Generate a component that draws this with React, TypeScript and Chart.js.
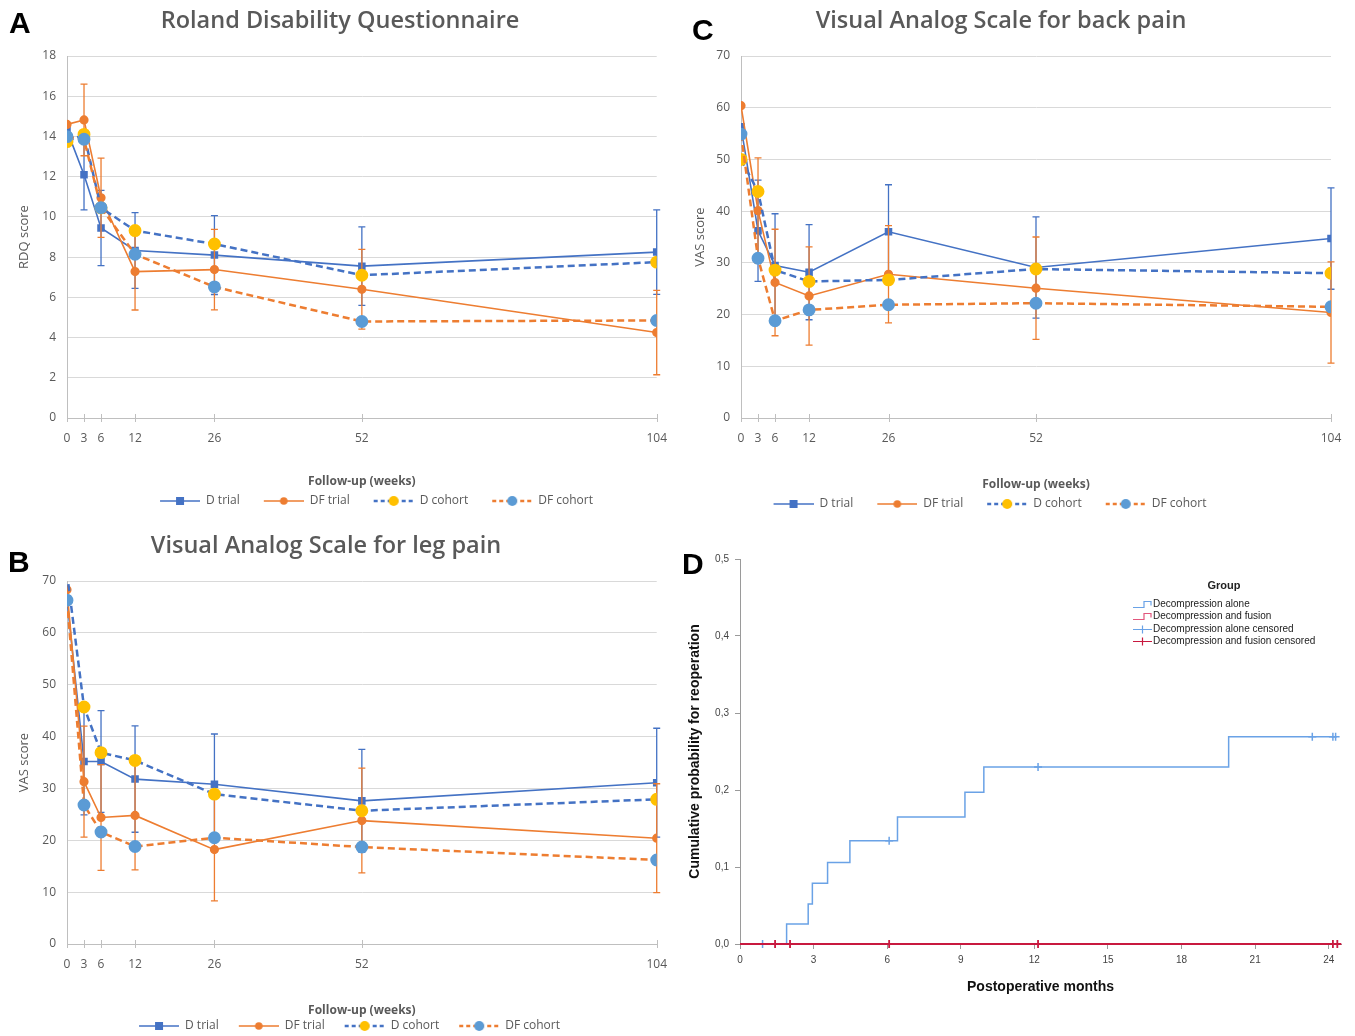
import React, { useEffect, useRef } from "react";
import { Chart, registerables } from "chart.js";

Chart.register(...registerables);

// ---------------- data ----------------
const WEEKS = [0, 3, 6, 12, 26, 52, 104];
const SERIES_LABELS = ["D trial", "DF trial", "D cohort", "DF cohort"];

// A: Roland Disability Questionnaire
const RDQ_D_TRIAL = [14.3, 12.1, 9.45, 8.33, 8.1, 7.55, 8.25];
const RDQ_D_TRIAL_ERR = [0, 1.75, 1.87, 1.88, 1.96, 1.95, 2.1];
const RDQ_DF_TRIAL = [14.6, 14.82, 10.95, 7.28, 7.38, 6.4, 4.25];
const RDQ_DF_TRIAL_ERR = [0, 1.78, 1.97, 1.91, 2.0, 1.98, 2.1];
const RDQ_D_COHORT = [13.74, 14.1, 10.45, 9.32, 8.65, 7.1, 7.75];
const RDQ_DF_COHORT = [13.99, 13.86, 10.46, 8.14, 6.52, 4.8, 4.85];
const RDQ_TICK_STEP = 2;
const RDQ_MAX = 18;

// C: VAS back pain
const BACK_D_TRIAL = [56.3, 36.2, 29.5, 28.2, 36.0, 29.1, 34.7];
const BACK_D_TRIAL_ERR = [0, 9.8, 10.0, 9.2, 9.1, 9.8, 9.8];
const BACK_DF_TRIAL = [60.4, 40.1, 26.2, 23.6, 27.8, 25.1, 20.4];
const BACK_DF_TRIAL_ERR = [0, 10.2, 10.3, 9.5, 9.4, 9.9, 9.8];
const BACK_D_COHORT = [50.0, 43.8, 28.6, 26.4, 26.7, 28.8, 28.0];
const BACK_DF_COHORT = [54.9, 30.9, 18.8, 20.9, 21.9, 22.2, 21.5];

// B: VAS leg pain
const LEG_D_TRIAL = [66.4, 35.2, 35.2, 31.8, 30.8, 27.6, 31.1];
const LEG_D_TRIAL_ERR = [0, 10.3, 9.8, 10.25, 9.7, 9.95, 10.5];
const LEG_DF_TRIAL = [68.3, 31.3, 24.4, 24.8, 18.2, 23.8, 20.4];
const LEG_DF_TRIAL_ERR = [0, 10.7, 10.2, 10.5, 9.9, 10.1, 10.5];
const LEG_D_COHORT = [71.5, 45.7, 36.9, 35.4, 28.9, 25.7, 27.9];
const LEG_DF_COHORT = [66.3, 26.8, 21.6, 18.8, 20.5, 18.7, 16.2];
const VAS_TICK_STEP = 10;
const VAS_MAX = 70;

// D: Kaplan-Meier reoperation
const KM_DA_MONTHS = [0, 1.9, 2.78, 2.95, 3.57, 4.48, 6.42, 9.17, 9.94, 19.92, 24.3];
const KM_DA_PROB = [0, 0.026, 0.052, 0.079, 0.106, 0.134, 0.165, 0.197, 0.23, 0.269, 0.269];
const KM_DA_CENS_MONTHS = [0.92, 6.08, 12.15, 23.33, 24.17, 24.28];
const KM_DA_CENS_PROB = [0, 0.134, 0.23, 0.269, 0.269, 0.269];
const KM_DF_MONTHS = [0, 24.5];
const KM_DF_PROB = [0, 0];
const KM_DF_CENS_MONTHS = [1.43, 2.04, 6.08, 12.15, 24.17, 24.35];
const KM_DF_CENS_PROB = [0, 0, 0, 0, 0, 0];
const KM_LABELS = [
  "Decompression alone",
  "Decompression and fusion",
  "Decompression alone censored",
  "Decompression and fusion censored",
];
const KM_X_TICKS = [0, 3, 6, 9, 12, 15, 18, 21, 24];
const KM_Y_TICKS = [0, 0.1, 0.2, 0.3, 0.4, 0.5];

// ---------------- styles ----------------
const C_BLUE = "#4472C4";
const C_ORANGE = "#ED7D31";
const C_YELLOW = "#FFC000";
const C_LBLUE = "#5B9BD5";
const C_TEXT = "#595959";
const FONT = "'Open Sans', 'DejaVu Sans', sans-serif";
const ARIAL = "'Liberation Sans', Arial, sans-serif";
const KM_BLUE = "#6aa2e6";
const KM_RED = "#c8193f";
const KM_PINK = "#e2577d";

function makeIcon(lineColor: string, dashed: boolean, lw: number, marker: string, shape: string, r: number) {
  const c = document.createElement("canvas");
  c.width = 58;
  c.height = 12;
  const ctx = c.getContext("2d")!;
  ctx.strokeStyle = lineColor;
  ctx.lineWidth = lw;
  if (dashed) ctx.setLineDash([4, 3]);
  ctx.beginPath();
  ctx.moveTo(18, 6);
  ctx.lineTo(58, 6);
  ctx.stroke();
  ctx.setLineDash([]);
  ctx.fillStyle = marker;
  if (shape === "rect") {
    ctx.fillRect(38 - r, 6 - r, 2 * r, 2 * r);
  } else {
    ctx.beginPath();
    ctx.arc(38, 6, r, 0, Math.PI * 2);
    ctx.fill();
  }
  return c;
}

const errorBarPlugin = {
  id: "errorBars",
  beforeDatasetDraw(chart: any, args: any) {
    const ds = chart.data.datasets[args.index];
    if (!ds.errors) return;
    const xs = chart.scales.x;
    const ys = chart.scales.y;
    const ctx = chart.ctx;
    ctx.save();
    ctx.strokeStyle = ds.errorColor;
    ctx.lineWidth = 1.3;
    ds.data.forEach((p: any, j: number) => {
      const e = ds.errors[j];
      if (!e) return;
      const x = xs.getPixelForValue(p.x);
      const yt = ys.getPixelForValue(p.y + e);
      const yb = ys.getPixelForValue(p.y - e);
      ctx.beginPath();
      ctx.moveTo(x, yt);
      ctx.lineTo(x, yb);
      ctx.moveTo(x - 3.5, yt);
      ctx.lineTo(x + 3.5, yt);
      ctx.moveTo(x - 3.5, yb);
      ctx.lineTo(x + 3.5, yb);
      ctx.stroke();
    });
    ctx.restore();
  },
};

const crossTickPlugin = {
  id: "crossTicks",
  beforeDatasetsDraw(chart: any) {
    const xs = chart.scales.x;
    const ctx = chart.ctx;
    const b = chart.chartArea.bottom;
    ctx.save();
    ctx.strokeStyle = "#bfbfbf";
    ctx.lineWidth = 1;
    xs.ticks.forEach((t: any) => {
      const x = Math.round(xs.getPixelForValue(t.value)) + 0.5;
      ctx.beginPath();
      ctx.moveTo(x, b - 4);
      ctx.lineTo(x, b + 4);
      ctx.stroke();
    });
    ctx.restore();
  },
};

// nudges the title and legend boxes horizontally after layout
const shiftBoxesPlugin = {
  id: "shiftBoxes",
  beforeDraw(chart: any, _args: any, opts: any) {
    const t = chart.titleBlock;
    if (t && opts.titleDx) {
      t.left += opts.titleDx;
      t.right += opts.titleDx;
    }
    const l = chart.legend;
    if (l && opts.legendDx) {
      l.left += opts.legendDx;
      l.right += opts.legendDx;
    }
  },
};

const kmLegendPlugin = {
  id: "kmLegend",
  afterDraw(chart: any) {
    const { ctx, chartArea } = chart;
    const r = chartArea.right;
    const t = chartArea.top;
    ctx.save();
    ctx.fillStyle = "#222";
    ctx.textBaseline = "middle";
    ctx.font = `bold 11px ${ARIAL}`;
    ctx.textAlign = "center";
    ctx.fillText("Group", r - 117, t + 27);
    ctx.font = `10px ${ARIAL}`;
    ctx.textAlign = "left";
    const colors = [KM_BLUE, KM_PINK, KM_BLUE, KM_RED];
    chart.data.datasets.forEach((ds: any, i: number) => {
      const y = Math.round(t + 45 + i * 12.4) + 0.5;
      const x0 = r - 208;
      ctx.strokeStyle = colors[i];
      ctx.lineWidth = 1.2;
      ctx.beginPath();
      if (i < 2) {
        ctx.moveTo(x0, y + 3);
        ctx.lineTo(x0 + 11, y + 3);
        ctx.lineTo(x0 + 11, y - 3);
        ctx.lineTo(x0 + 18, y - 3);
        ctx.lineTo(x0 + 18, y + 1);
      } else {
        ctx.moveTo(x0, y);
        ctx.lineTo(x0 + 19, y);
        ctx.moveTo(x0 + 9.5, y - 4);
        ctx.lineTo(x0 + 9.5, y + 4);
      }
      ctx.stroke();
      ctx.fillStyle = "#222";
      ctx.fillText(ds.label, r - 188, y);
    });
    ctx.restore();
  },
};

type Layout = {
  padL: number;
  padR: number;
  padB: number;
  yWidth: number;
  xHeight: number;
  titleTop: number;
  titleBottom: number;
  legendPad: number;
  yTitlePad: number;
  titleDx: number;
  legendDx: number;
};

type ExcelProps = {
  left: number;
  top: number;
  width: number;
  height: number;
  title: string;
  yTitle: string;
  yMax: number;
  yStep: number;
  dTrial: number[];
  dTrialErr: number[];
  dfTrial: number[];
  dfTrialErr: number[];
  dCohort: number[];
  dfCohort: number[];
  layout: Layout;
};

function pts(arr: number[]) {
  return WEEKS.map((w, i) => ({ x: w, y: arr[i] }));
}

function ExcelPanel(p: ExcelProps) {
  const ref = useRef<HTMLCanvasElement>(null);
  useEffect(() => {
    const L = p.layout;
    const datasets: any[] = [
      {
        label: SERIES_LABELS[0],
        data: pts(p.dTrial),
        errors: p.dTrialErr,
        errorColor: C_BLUE,
        borderColor: C_BLUE,
        borderWidth: 1.6,
        pointStyle: "rect",
        pointRadius: 4.2,
        pointBackgroundColor: C_BLUE,
        pointBorderColor: C_BLUE,
        order: 3,
        icon: makeIcon(C_BLUE, false, 1.6, C_BLUE, "rect", 4),
      },
      {
        label: SERIES_LABELS[1],
        data: pts(p.dfTrial),
        errors: p.dfTrialErr,
        errorColor: C_ORANGE,
        borderColor: C_ORANGE,
        borderWidth: 1.6,
        pointStyle: "circle",
        pointRadius: 3.8,
        pointBackgroundColor: C_ORANGE,
        pointBorderColor: C_ORANGE,
        order: 2,
        icon: makeIcon(C_ORANGE, false, 1.6, C_ORANGE, "circle", 3.8),
      },
      {
        label: SERIES_LABELS[2],
        data: pts(p.dCohort),
        borderColor: C_BLUE,
        borderWidth: 2.5,
        borderDash: [7, 4],
        pointStyle: "circle",
        pointRadius: 5.2,
        pointBackgroundColor: C_YELLOW,
        pointBorderColor: C_YELLOW,
        order: 1,
        icon: makeIcon(C_BLUE, true, 2.5, C_YELLOW, "circle", 5),
      },
      {
        label: SERIES_LABELS[3],
        data: pts(p.dfCohort),
        borderColor: C_ORANGE,
        borderWidth: 2.5,
        borderDash: [7, 4],
        pointStyle: "circle",
        pointRadius: 5.2,
        pointBackgroundColor: C_LBLUE,
        pointBorderColor: C_LBLUE,
        order: 0,
        icon: makeIcon(C_ORANGE, true, 2.5, C_LBLUE, "circle", 5),
      },
    ];
    const chart = new Chart(ref.current!, {
      type: "line",
      data: { datasets },
      plugins: [errorBarPlugin, crossTickPlugin, shiftBoxesPlugin],
      options: {
        responsive: false,
        animation: false,
        events: [],
        layout: { padding: { left: L.padL, right: L.padR, top: 0, bottom: L.padB } },
        elements: { line: { tension: 0 } },
        plugins: {
          tooltip: { enabled: false },
          shiftBoxes: { titleDx: L.titleDx, legendDx: L.legendDx },
          title: {
            display: true,
            text: p.title,
            color: C_TEXT,
            font: { family: FONT, size: 23.5, weight: "600" },
            padding: { top: L.titleTop, bottom: L.titleBottom },
          },
          legend: {
            position: "bottom",
            labels: {
              usePointStyle: true,
              pointStyleWidth: 58,
              padding: L.legendPad,
              color: C_TEXT,
              font: { family: FONT, size: 12 },
              generateLabels: (ch: any) =>
                ch.data.datasets.map((ds: any, i: number) => ({
                  text: ds.label,
                  pointStyle: ds.icon,
                  datasetIndex: i,
                  hidden: false,
                  fontColor: C_TEXT,
                  lineWidth: 0,
                  strokeStyle: "rgba(0,0,0,0)",
                  fillStyle: "rgba(0,0,0,0)",
                })),
            },
          },
        },
        scales: {
          x: {
            type: "linear",
            min: 0,
            max: 104,
            afterBuildTicks: (s: any) => {
              s.ticks = WEEKS.map((v) => ({ value: v }));
            },
            afterFit: (s: any) => {
              s.height = L.xHeight;
            },
            grid: { display: false, drawTicks: false },
            border: { display: true, color: "#bfbfbf", width: 1 },
            ticks: {
              padding: 13,
              color: C_TEXT,
              font: { family: FONT, size: 12 },
              autoSkip: false,
              maxRotation: 0,
            },
            title: {
              display: true,
              text: "Follow-up (weeks)",
              color: C_TEXT,
              font: { family: FONT, size: 12, weight: "bold" },
              padding: { top: 0, bottom: 0 },
            },
          },
          y: {
            type: "linear",
            min: 0,
            max: p.yMax,
            afterFit: (s: any) => {
              s.width = L.yWidth;
            },
            grid: { color: "#d9d9d9", drawTicks: false, lineWidth: 1 },
            border: { display: true, color: "#bfbfbf", width: 1 },
            ticks: {
              stepSize: p.yStep,
              padding: 11,
              color: C_TEXT,
              font: { family: FONT, size: 12 },
            },
            title: {
              display: true,
              text: p.yTitle,
              color: C_TEXT,
              font: { family: FONT, size: 13 },
              padding: { top: L.yTitlePad, bottom: 0 },
            },
          },
        },
      } as any,
    });
    return () => chart.destroy();
  }, []);
  return (
    <canvas
      ref={ref}
      width={p.width}
      height={p.height}
      style={{ position: "absolute", left: p.left, top: p.top, width: p.width, height: p.height }}
    />
  );
}

function KMPanel() {
  const ref = useRef<HTMLCanvasElement>(null);
  useEffect(() => {
    const xy = (xs: number[], ys: number[]) => xs.map((x, i) => ({ x, y: ys[i] }));
    const chart = new Chart(ref.current!, {
      type: "line",
      data: {
        datasets: [
          {
            label: KM_LABELS[0],
            data: xy(KM_DA_MONTHS, KM_DA_PROB),
            stepped: "before",
            borderColor: KM_BLUE,
            borderWidth: 1.5,
            pointRadius: 0,
            clip: false,
            order: 3,
          },
          {
            label: KM_LABELS[1],
            data: xy(KM_DF_MONTHS, KM_DF_PROB),
            borderColor: KM_RED,
            borderWidth: 2,
            pointRadius: 0,
            clip: false,
            order: 1,
          },
          {
            label: KM_LABELS[2],
            data: xy(KM_DA_CENS_MONTHS, KM_DA_CENS_PROB),
            showLine: false,
            pointStyle: "cross",
            pointRadius: 4,
            pointBorderColor: KM_BLUE,
            pointBorderWidth: 1.5,
            borderColor: KM_BLUE,
            clip: false,
            order: 2,
          },
          {
            label: KM_LABELS[3],
            data: xy(KM_DF_CENS_MONTHS, KM_DF_CENS_PROB),
            showLine: false,
            pointStyle: "cross",
            pointRadius: 4,
            pointBorderColor: KM_RED,
            pointBorderWidth: 1.8,
            borderColor: KM_RED,
            clip: false,
            order: 0,
          },
        ] as any,
      },
      plugins: [kmLegendPlugin],
      options: {
        responsive: false,
        animation: false,
        events: [],
        layout: { padding: { left: 0, right: 14, top: 14, bottom: 0 } },
        plugins: { legend: { display: false }, tooltip: { enabled: false }, title: { display: false } },
        scales: {
          x: {
            type: "linear",
            min: 0,
            max: 24.5,
            afterBuildTicks: (s: any) => {
              s.ticks = KM_X_TICKS.map((v) => ({ value: v }));
            },
            afterFit: (s: any) => {
              s.height = 92;
            },
            grid: { drawOnChartArea: false, drawTicks: true, tickLength: 5, color: "#9a9a9a" },
            border: { display: true, color: "#9a9a9a", width: 1 },
            ticks: { padding: 5, color: "#444", font: { family: ARIAL, size: 10 }, autoSkip: false, maxRotation: 0 },
            title: {
              display: true,
              text: "Postoperative months",
              color: "#111",
              font: { family: ARIAL, size: 14, weight: "bold" },
              padding: { top: 0, bottom: 40 },
            },
          },
          y: {
            type: "linear",
            min: 0,
            max: 0.5,
            afterBuildTicks: (s: any) => {
              s.ticks = KM_Y_TICKS.map((v) => ({ value: v }));
            },
            afterFit: (s: any) => {
              s.width = 60;
            },
            grid: { drawOnChartArea: false, drawTicks: true, tickLength: 5, color: "#9a9a9a" },
            border: { display: true, color: "#9a9a9a", width: 1 },
            ticks: {
              padding: 6,
              color: "#444",
              font: { family: ARIAL, size: 10 },
              callback: (v: any) => Number(v).toFixed(1).replace(".", ","),
            },
            title: {
              display: true,
              text: "Cumulative probability for reoperation",
              color: "#111",
              font: { family: ARIAL, size: 14, weight: "bold" },
              padding: { top: 7, bottom: 0 },
            },
          },
        },
      } as any,
    });
    return () => chart.destroy();
  }, []);
  return (
    <canvas
      ref={ref}
      width={675}
      height={491}
      style={{ position: "absolute", left: 680, top: 545, width: 675, height: 491 }}
    />
  );
}

const letterStyle = (left: number, top: number): React.CSSProperties => ({
  position: "absolute",
  left,
  top,
  fontFamily: ARIAL,
  fontWeight: "bold",
  fontSize: 30,
  lineHeight: "30px",
  color: "#000",
});

export default function App() {
  return (
    <div
      style={{
        position: "fixed",
        left: 0,
        top: 0,
        width: 1355,
        height: 1036,
        overflow: "hidden",
        background: "#fff",
      }}
    >
      <ExcelPanel
        left={0}
        top={0}
        width={680}
        height={520}
        title="Roland Disability Questionnaire"
        yTitle="RDQ score"
        yMax={RDQ_MAX}
        yStep={RDQ_TICK_STEP}
        dTrial={RDQ_D_TRIAL}
        dTrialErr={RDQ_D_TRIAL_ERR}
        dfTrial={RDQ_DF_TRIAL}
        dfTrialErr={RDQ_DF_TRIAL_ERR}
        dCohort={RDQ_D_COHORT}
        dfCohort={RDQ_DF_COHORT}
        layout={{ padL: 8, padR: 23, padB: 3, yWidth: 59, xHeight: 71, titleTop: 7, titleBottom: 20.8, legendPad: 6, yTitlePad: 8, titleDx: 7.5, legendDx: 35 }}
      />
      <ExcelPanel
        left={690}
        top={0}
        width={665}
        height={523}
        title="Visual Analog Scale for back pain"
        yTitle="VAS score"
        yMax={VAS_MAX}
        yStep={VAS_TICK_STEP}
        dTrial={BACK_D_TRIAL}
        dTrialErr={BACK_D_TRIAL_ERR}
        dfTrial={BACK_DF_TRIAL}
        dfTrialErr={BACK_DF_TRIAL_ERR}
        dCohort={BACK_D_COHORT}
        dfCohort={BACK_DF_COHORT}
        layout={{ padL: 0, padR: 24, padB: 3, yWidth: 51, xHeight: 74, titleTop: 7, titleBottom: 20.8, legendPad: 6, yTitlePad: 2, titleDx: -9.5, legendDx: -29.5 }}
      />
      <ExcelPanel
        left={0}
        top={520}
        width={680}
        height={522}
        title="Visual Analog Scale for leg pain"
        yTitle="VAS score"
        yMax={VAS_MAX}
        yStep={VAS_TICK_STEP}
        dTrial={LEG_D_TRIAL}
        dTrialErr={LEG_D_TRIAL_ERR}
        dfTrial={LEG_DF_TRIAL}
        dfTrialErr={LEG_DF_TRIAL_ERR}
        dCohort={LEG_D_COHORT}
        dfCohort={LEG_DF_COHORT}
        layout={{ padL: 8, padR: 23, padB: 0, yWidth: 59, xHeight: 74, titleTop: 12, titleBottom: 20.8, legendPad: 2, yTitlePad: 8, titleDx: -6.5, legendDx: 8 }}
      />
      <KMPanel />
      <div style={letterStyle(9, 8)}>A</div>
      <div style={letterStyle(692, 15)}>C</div>
      <div style={letterStyle(8, 547)}>B</div>
      <div style={letterStyle(682, 549)}>D</div>
    </div>
  );
}
